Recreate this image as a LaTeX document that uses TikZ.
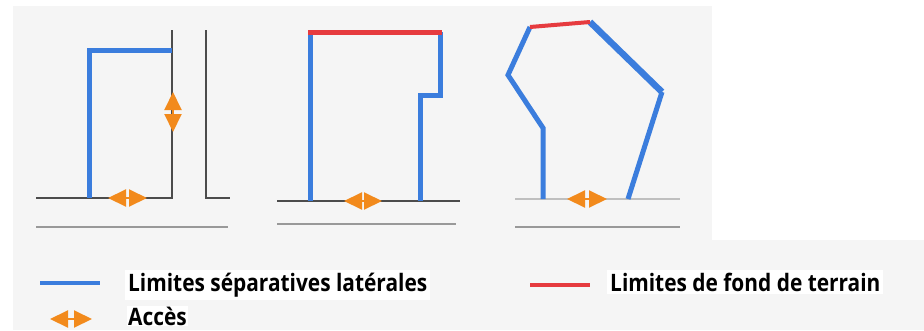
\documentclass[tikz,border=0pt]{standalone}
\usepackage{fontspec}
\setmainfont{Open Sans}[FakeStretch=0.87]
\usetikzlibrary{arrows.meta}
\definecolor{limblue}{HTML}{3B7DDD}
\definecolor{limred}{HTML}{E63B3F}
\definecolor{accorange}{HTML}{F28A1C}
\definecolor{bggray}{HTML}{F5F5F5}
\def\legtext{\node[anchor=base west,fill=white,inner sep=3pt,font=\fontsize{24}{26}\selectfont\bfseries]}

\begin{document}
\begin{tikzpicture}[x=1pt,y=-1pt,
  lat/.style={draw=limblue,line width=5pt,line join=miter},
  fond/.style={draw=limred,line width=5pt},
  road/.style={draw=black!70,line width=1.6pt},
  kerb/.style={draw=black!40,line width=1.6pt},
  acces/.style={draw=accorange,line width=2pt,
    arrows={Triangle[length=18pt,width=17pt]-Triangle[length=18pt,width=17pt]}}]
\fill[white] (0,0) rectangle (924,330);
\fill[bggray] (13,6) rectangle (924,330);
\fill[white] (712,0) rectangle (924,240);
% parcelle 1
\draw[road] (36,198) -- (172,198) -- (172,30);
\draw[road] (206,30) -- (206,198) -- (230,198);
\draw[kerb] (36,227) -- (228,227);
\draw[lat] (89,198) -- (89,50) -- (172,50);
\draw[acces] (108,198) -- (147,198);
\draw[acces] (173,92) -- (173,132);
% parcelle 2
\draw[road] (277,201) -- (460,201);
\draw[kerb] (277,224) -- (456,224);
\draw[lat] (310,201) -- (310,32);
\draw[lat] (440,32) -- (440,95) -- (420,95) -- (420,201);
\draw[fond] (308,32) -- (442,32);
\draw[acces] (344,201) -- (382,201);
% parcelle 3
\draw[kerb,draw=black!25] (515,199) -- (680,199);
\draw[kerb] (515,227) -- (680,227);
\draw[lat] (543,199) -- (543,128) -- (508,75) -- (530,27);
\draw[lat,line width=6.5pt] (590,22) -- (662,92);
\draw[lat] (662,92) -- (628,199);
\draw[fond,line width=4pt] (530,27) -- (590,22);
\draw[acces] (567,199) -- (607,199);
% legende
\draw[lat,line width=4.5pt] (40,283) -- (100,283);
\legtext (l1) at (125,291) {Limites séparatives latérales};
\draw[fond,line width=4.5pt] (530,285) -- (590,285);
\legtext (l2) at (607,291) {Limites de fond de terrain};
\draw[acces] (50,319) -- (92,319);
\legtext[text depth=0pt,inner sep=1pt] (l3) at (127,325) {Accès};
\end{tikzpicture}
\end{document}
